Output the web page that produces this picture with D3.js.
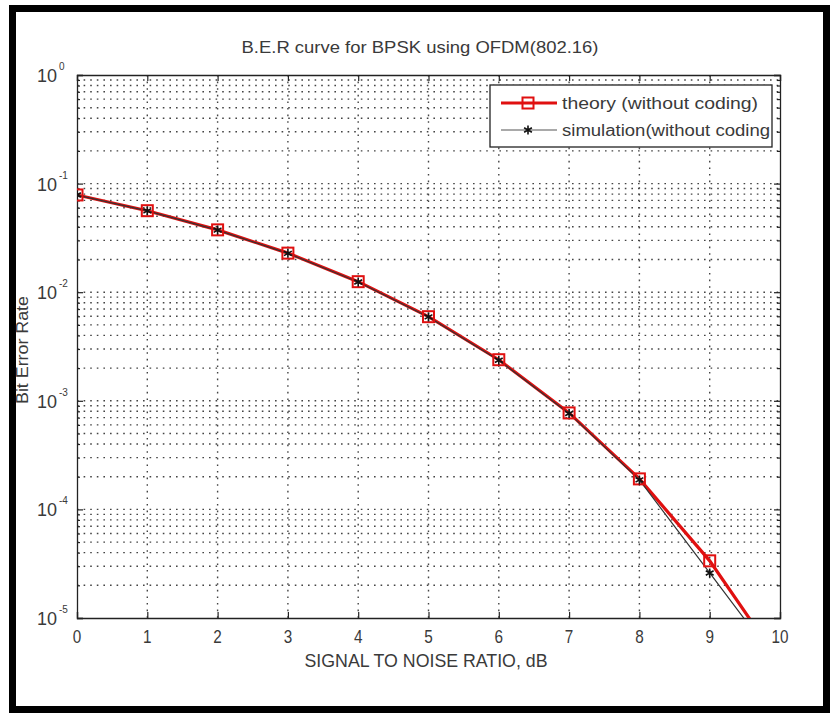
<!DOCTYPE html>
<html>
<head>
<meta charset="utf-8">
<script src="https://cdn.jsdelivr.net/npm/d3@7"></script>
<style>
  body { margin: 0; background: #fff; }
  text { font-family: "Liberation Sans Narrow", "Liberation Sans", Arial, sans-serif; fill: #3a3a3a; }
</style>
</head>
<body>
<script>
// data
var snrDb = [0, 1, 2, 3, 4, 5, 6, 7, 8, 9, 10];
var berTheory = [0.0786, 0.0563, 0.0375, 0.0229, 0.0125, 0.00595, 0.00239, 0.000773, 0.000191, 0.0000336, 0.00000387];
var berSim = [0.0785, 0.0561, 0.0373, 0.0228, 0.0124, 0.00592, 0.00236, 0.000765, 0.000187, 0.000026, 0.0000036];
var xTicks = [0, 1, 2, 3, 4, 5, 6, 7, 8, 9, 10];
var yExponents = [0, -1, -2, -3, -4, -5];
var legendLabels = ['theory (without coding)', 'simulation(without coding'];

var W = 830, H = 713;
var m = {left: 77, top: 75, right: 780, bottom: 618};

var svg = d3.select('body').append('svg')
    .attr('width', W)
    .attr('height', H);

// outer frame
svg.append('rect').attr('x', 12.5).attr('y', 8.5).attr('width', 814).attr('height', 701)
    .attr('fill', 'none').attr('stroke', '#000').attr('stroke-width', 7);

var x = d3.scaleLinear().domain([0, 10]).range([m.left, m.right]);
var y = d3.scaleLog().domain([1e-5, 1]).range([m.bottom, m.top]);

// minor log values
var minor = [];
yExponents.forEach(function (e) {
    if (e === 0) return;
    for (var k = 2; k <= 9; k++) minor.push(k * Math.pow(10, e));
});
var decades = yExponents.map(function (e) { return Math.pow(10, e); });

var grid = svg.append('g').attr('class', 'grid');
grid.selectAll('line.vg').data(xTicks.slice(1, -1)).enter().append('line')
    .attr('x1', function (d) { return x(d); }).attr('x2', function (d) { return x(d); })
    .attr('y1', m.top).attr('y2', m.bottom)
    .attr('stroke', '#444').attr('stroke-width', 1.4).attr('stroke-dasharray', '1.6,5');
grid.selectAll('line.hg').data(minor.concat(decades.slice(1, -1))).enter().append('line')
    .attr('x1', m.left).attr('x2', m.right)
    .attr('y1', function (d) { return y(d); }).attr('y2', function (d) { return y(d); })
    .attr('stroke', '#444').attr('stroke-width', 1.4).attr('stroke-dasharray', '1.6,5');

// axes with inward ticks
var xAxisB = d3.axisBottom(x).tickValues(xTicks).tickSize(-6).tickFormat('');
var xAxisT = d3.axisTop(x).tickValues(xTicks).tickSize(-6).tickFormat('');
var yAxisL = d3.axisLeft(y).tickValues(decades).tickSize(-6).tickFormat('');
var yAxisR = d3.axisRight(y).tickValues(decades).tickSize(-6).tickFormat('');
var yMinL = d3.axisLeft(y).tickValues(minor).tickSize(-3).tickFormat('');
var yMinR = d3.axisRight(y).tickValues(minor).tickSize(-3).tickFormat('');

function styleAxis(g) {
    g.selectAll('path').attr('stroke', '#222').attr('stroke-width', 1.3);
    g.selectAll('line').attr('stroke', '#222').attr('stroke-width', 1.2);
}
svg.append('g').attr('transform', 'translate(0,' + m.bottom + ')').call(xAxisB).call(styleAxis);
svg.append('g').attr('transform', 'translate(0,' + m.top + ')').call(xAxisT).call(styleAxis);
svg.append('g').attr('transform', 'translate(' + m.left + ',0)').call(yAxisL).call(styleAxis);
svg.append('g').attr('transform', 'translate(' + m.right + ',0)').call(yAxisR).call(styleAxis);
svg.append('g').attr('transform', 'translate(' + m.left + ',0)').call(yMinL).call(styleAxis).select('path').remove();
svg.append('g').attr('transform', 'translate(' + m.right + ',0)').call(yMinR).call(styleAxis).select('path').remove();

// tick labels (condensed like the original)
svg.selectAll('text.xt').data(xTicks).enter().append('text')
    .attr('x', function (d) { return x(d); }).attr('y', 643)
    .attr('text-anchor', 'middle').attr('font-size', 19)
    .attr('textLength', function (d) { return String(d).length * 8.5; })
    .attr('lengthAdjust', 'spacingAndGlyphs')
    .text(function (d) { return d; });

// y labels: base "10" and exponent as separate texts
svg.selectAll('text.yb').data(yExponents).enter().append('text')
    .attr('x', 57).attr('y', function (d) { return y(Math.pow(10, d)) + 7; })
    .attr('text-anchor', 'end').attr('font-size', 18)
    .text('10');
svg.selectAll('text.ye').data(yExponents).enter().append('text')
    .attr('x', 59).attr('y', function (d) { return y(Math.pow(10, d)) - 5; })
    .attr('font-size', 10)
    .text(function (d) { return d; });

// titles
svg.append('text').attr('x', 420).attr('y', 53).attr('text-anchor', 'middle')
    .attr('font-size', 17).attr('textLength', 357).attr('lengthAdjust', 'spacingAndGlyphs')
    .text('B.E.R curve for BPSK using OFDM(802.16)');
svg.append('text').attr('x', 426).attr('y', 667).attr('text-anchor', 'middle')
    .attr('font-size', 19).attr('textLength', 243).attr('lengthAdjust', 'spacingAndGlyphs')
    .text('SIGNAL TO NOISE RATIO, dB');
svg.append('text').attr('transform', 'translate(28,350) rotate(-90)').attr('text-anchor', 'middle')
    .attr('font-size', 16).attr('textLength', 108).attr('lengthAdjust', 'spacingAndGlyphs')
    .text('Bit Error Rate');

// curves
svg.append('clipPath').attr('id', 'plotClip').append('rect')
    .attr('x', m.left).attr('y', m.top).attr('width', m.right - m.left).attr('height', m.bottom - m.top);

var line = d3.line()
    .x(function (d) { return x(d[0]); })
    .y(function (d) { return y(d[1]); });

var theoryPts = snrDb.map(function (s, i) { return [s, berTheory[i]]; });
var simPts = snrDb.map(function (s, i) { return [s, berSim[i]]; });

var plot = svg.append('g').attr('clip-path', 'url(#plotClip)');
plot.append('path').datum(theoryPts).attr('d', line)
    .attr('fill', 'none').attr('stroke', '#e01010').attr('stroke-width', 3.2);
plot.append('path').datum(simPts).attr('d', line)
    .attr('fill', 'none').attr('stroke', '#333').attr('stroke-width', 1.2);

var sq = 11;
plot.selectAll('rect.mk').data(theoryPts.filter(function (d) { return d[1] >= 1e-5; })).enter().append('rect')
    .attr('x', function (d) { return x(d[0]) - sq / 2; })
    .attr('y', function (d) { return y(d[1]) - sq / 2; })
    .attr('width', sq).attr('height', sq)
    .attr('fill', 'none').attr('stroke', '#e01010').attr('stroke-width', 2);

function starPath(s) {
    var r = s / 2, p = '';
    [0, 60, 120].forEach(function (a) {
        var t = a * Math.PI / 180;
        p += 'M' + (-r * Math.sin(t)) + ',' + (-r * Math.cos(t)) + 'L' + (r * Math.sin(t)) + ',' + (r * Math.cos(t));
    });
    return p;
}
plot.selectAll('path.st').data(simPts.filter(function (d) { return d[1] >= 1e-5; })).enter().append('path')
    .attr('transform', function (d) { return 'translate(' + x(d[0]) + ',' + y(d[1]) + ')'; })
    .attr('d', starPath(9))
    .attr('stroke', '#111').attr('stroke-width', 1.6);

// legend
var lg = svg.append('g');
lg.append('rect').attr('x', 490).attr('y', 85).attr('width', 282).attr('height', 62)
    .attr('fill', '#fff').attr('stroke', '#222').attr('stroke-width', 1.3);
lg.append('line').attr('x1', 501).attr('x2', 557).attr('y1', 103).attr('y2', 103)
    .attr('stroke', '#e01010').attr('stroke-width', 3.2);
lg.append('rect').attr('x', 528 - sq / 2).attr('y', 103 - sq / 2).attr('width', sq).attr('height', sq)
    .attr('fill', 'none').attr('stroke', '#e01010').attr('stroke-width', 2);
lg.append('line').attr('x1', 501).attr('x2', 557).attr('y1', 130).attr('y2', 130)
    .attr('stroke', '#555').attr('stroke-width', 1.2);
lg.append('path').attr('transform', 'translate(528,130)').attr('d', starPath(9))
    .attr('stroke', '#111').attr('stroke-width', 1.6);
lg.selectAll('text.lt').data(legendLabels).enter().append('text')
    .attr('x', 562).attr('y', function (d, i) { return 109 + i * 27; })
    .attr('font-size', 16)
    .attr('textLength', function (d, i) { return i === 0 ? 196 : 208; })
    .attr('lengthAdjust', 'spacingAndGlyphs')
    .text(function (d) { return d; });
</script>
</body>
</html>
